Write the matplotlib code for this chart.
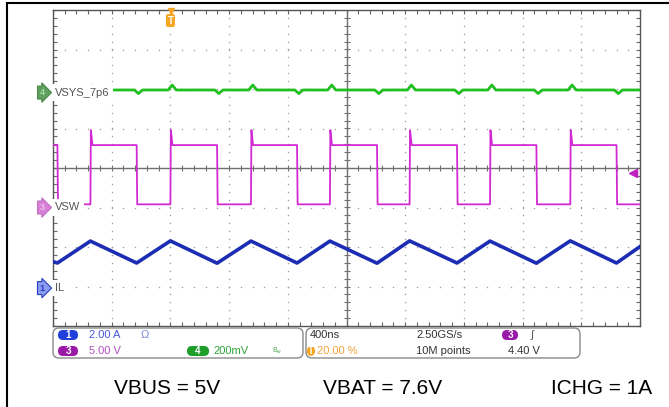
import matplotlib.pyplot as plt
import matplotlib.transforms as mtransforms
import numpy as np
from matplotlib.patches import FancyBboxPatch
from matplotlib.lines import Line2D
from matplotlib.ticker import MultipleLocator

plt.rcParams['font.family'] = ['Liberation Sans', 'DejaVu Sans']

# timebase 400 ns/div, trigger at 20 % -> screen spans -800 .. 3200 ns
T0, T1 = -800, 3200

# channel settings: scale per div and ground marker position (div)
ch1_scale, ch1_off = 2.0, -3.04     # IL, A
ch3_scale, ch3_off = 5.0, -1.0      # VSW, V
ch4_scale, ch4_off = 200.0, 1.91    # VSYS (AC), mV

# VSW edges (ns) and levels (V)
vsw_rise = [-545, 0, 549, 1087, 1630, 2178, 2725]
vsw_fall = [-770, -230, 318, 863, 1408, 1953, 2494, 3040]
vsw_high, vsw_low, vsw_spike = 7.9, 0.4, 9.8

# inductor current corners (ns, A)
il_t = [-800, -770, -545, -230, 0, 318, 549, 863, 1087, 1408, 1630, 1953,
        2178, 2494, 2725, 3040, 3200]
il_a = [1.34, 1.27, 2.38, 1.27, 2.39, 1.26, 2.38, 1.27, 2.38, 1.26, 2.39,
        1.27, 2.38, 1.26, 2.39, 1.27, 2.10]

# VSYS ripple (mV): flat level with small glitches at the switching edges
vsys_level = 13
vsys_up, vsys_down = 25, -18

# trigger level on ch3
trig_level = 4.40

fig = plt.figure(figsize=(6.69, 4.07), dpi=100)
pix = mtransforms.Affine2D().scale(0.01, -0.01).translate(0, 4.07) + fig.dpi_scale_trans

ax = fig.add_axes([53 / 669, 1 - 326 / 407, 587 / 669, 316 / 407])
ax.set_xlim(T0, T1)
ax.set_ylim(-4, 4)

# graticule
ax.xaxis.set_major_locator(MultipleLocator(400))
ax.xaxis.set_minor_locator(MultipleLocator(80))
ax.yaxis.set_major_locator(MultipleLocator(1))
ax.yaxis.set_minor_locator(MultipleLocator(0.2))
ax.tick_params(which='both', direction='in', top=True, right=True, length=3,
               width=0.8, color='#666666', labelbottom=False, labelleft=False)
for s in ax.spines.values():
    s.set_color('#555555')
    s.set_linewidth(1.0)

xc = (T0 + T1) / 2
xs_major = [x for x in np.arange(T0 + 400, T1, 400) if x != xc]
ys_major = [y for y in range(-3, 4) if y != 0]
xs_minor = np.arange(T0, T1 + 1, 80)
ys_minor = np.arange(-4, 4.01, 0.2)
gx, gy = np.meshgrid(xs_major, ys_minor)
ax.scatter(gx.ravel(), gy.ravel(), s=1.2, color='#a0a0a0', lw=0, zorder=1)
gx, gy = np.meshgrid(xs_minor, ys_major)
ax.scatter(gx.ravel(), gy.ravel(), s=1.2, color='#a0a0a0', lw=0, zorder=1)
ax.axhline(0, color='#707070', lw=1.0, zorder=1)
ax.axvline(xc, color='#707070', lw=1.0, zorder=1)
ax.plot(xs_minor, np.zeros(len(xs_minor)), ls='none', marker='|', ms=5,
        mew=0.8, color='#707070', zorder=1)
ax.plot(np.full(len(ys_minor), xc), ys_minor, ls='none', marker='_', ms=5,
        mew=0.8, color='#707070', zorder=1)

# VSW path from the edges
events = sorted([(t, 'r') for t in vsw_rise] + [(t, 'f') for t in vsw_fall])
sw_t, sw_v = [T0], [vsw_high]
for t, k in events:
    if k == 'f':
        sw_t += [t, t + 4]
        sw_v += [vsw_high, vsw_low]
    else:
        sw_t += [t, t + 3, t + 14]
        sw_v += [vsw_low, vsw_spike, vsw_high]
sw_t.append(T1)
sw_v.append(sw_v[-1])

# VSYS path with glitches
vs_t, vs_v = [T0], [vsys_level]
for t, k in events:
    d = vsys_up if k == 'r' else vsys_down
    vs_t += [t - 15, t + 12, t + 40]
    vs_v += [vsys_level, vsys_level + d, vsys_level]
vs_t.append(T1)
vs_v.append(vsys_level)

ax.plot(vs_t, np.array(vs_v) / ch4_scale + ch4_off, color='#1fbf1f', lw=2.0, zorder=3)
ax.plot(sw_t, np.array(sw_v) / ch3_scale + ch3_off, color='#d22ad2', lw=1.3, zorder=3)
ax.plot(il_t, np.array(il_a) / ch1_scale + ch1_off, color='#1c2db4', lw=2.6, zorder=3)

# trigger level marker
ax.plot([3152], [trig_level / ch3_scale + ch3_off], marker='<', ms=6,
        color='#c020c0', ls='none', zorder=4, clip_on=False)

# channel markers + labels
blend = mtransforms.blended_transform_factory(pix, ax.transData)
markers = [
    ('4', ch4_off, '#5fa05f', '#4a8a4a', '#a8d8a8', 'VSYS_7p6'),
    ('3', ch3_off, '#d680d6', '#c070c0', '#f0c0f0', 'VSW'),
    ('1', ch1_off, '#8c9cec', '#2a3cc8', '#2a3cc8', 'IL'),
]
for num, off, fc, ec, tc, name in markers:
    ax.text(42, off, num, transform=blend, ha='center', va='center', fontsize=6.5,
            color=tc, fontweight='bold', clip_on=False, zorder=5,
            bbox=dict(boxstyle='rarrow,pad=0.22', fc=fc, ec=ec, lw=0.8))
    ax.text(55, off, name, transform=blend, ha='left', va='center', fontsize=8,
            color='#555555', clip_on=False, zorder=5,
            bbox=dict(boxstyle='square,pad=0.3', fc='white', ec='none'))

# trigger position marker at top
fig.add_artist(FancyBboxPatch((166, 14), 9, 13, boxstyle='round,pad=0,rounding_size=2',
                              transform=pix, fc='#f5a623', ec='none'))
fig.text(170.5, 20.5, 'T', transform=pix, ha='center', va='center', fontsize=7,
         color='white', fontweight='bold')
fig.add_artist(Line2D([170.5], [11], marker='v', ms=4, color='#f5a623', transform=pix))


# info bar
def badge(cx, cy, w, h, color, label):
    fig.add_artist(FancyBboxPatch((cx - w / 2, cy - h / 2), w, h,
                                  boxstyle=f'round,pad=0,rounding_size={h / 2}',
                                  transform=pix, fc=color, ec='none'))
    fig.text(cx, cy + 0.5, label, transform=pix, ha='center', va='center',
             fontsize=7, color='white', fontweight='bold')


for x0, x1 in [(53, 303), (306, 580)]:
    fig.add_artist(FancyBboxPatch((x0, 328), x1 - x0, 30,
                                  boxstyle='round,pad=0,rounding_size=6',
                                  transform=pix, fc='white', ec='#8a8a8a', lw=1.0))

r1, r2 = 335, 351
badge(68, r1, 20, 10, '#1f3fd8', '1')
badge(68, r2, 20, 10, '#9a1aa8', '3')
badge(198, r2, 22, 10, '#1f9e2a', '4')
badge(510, r1, 16, 10, '#9a1aa8', '3')
badge(311, r2, 8, 10, '#f5a31a', 'T')

info = [
    (89, r1, '2.00 A', '#4757d6'),
    (141, r1, 'Ω', '#7d8ad8'),
    (89, r2, '5.00 V', '#b04fc0'),
    (213, r2, '200mV', '#2fa53a'),
    (310, r1, '400ns', '#333333'),
    (416, r1, '2.50GS/s', '#333333'),
    (531, r1, '∫', '#555555'),
    (317, r2, '20.00 %', '#f2a33a'),
    (416, r2, '10M points', '#333333'),
    (508, r2, '4.40 V', '#333333'),
]
for x, y, s, c in info:
    fig.text(x, y, s, transform=pix, ha='left', va='center', fontsize=8, color=c)
fig.text(272, r2, r'$\mathregular{B_w}$', transform=pix, ha='left', va='center',
         fontsize=5, color='#4aa84a')

# outer frame
fig.add_artist(Line2D([7, 7], [3, 407], color='black', lw=1.5, transform=pix))
fig.add_artist(Line2D([7, 669], [3, 3], color='black', lw=1.5, transform=pix))

# conditions
for x, s in [(167, 'VBUS = 5V'), (383, 'VBAT = 7.6V'), (602, 'ICHG = 1A')]:
    fig.text(x, 394, s, transform=pix, ha='center', va='baseline', fontsize=15,
             color='black')

fig.savefig('out.png', dpi=100)
